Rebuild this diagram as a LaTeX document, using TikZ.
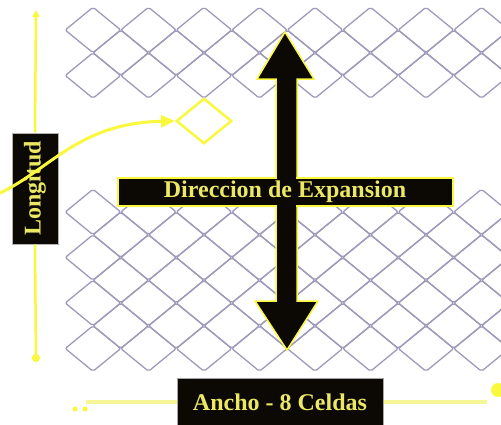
\documentclass[tikz,border=0pt]{standalone}
\usepackage{graphicx}
\usepackage{fontspec}
\setmainfont{Liberation Serif}
\usepackage{xcolor}
\usetikzlibrary{arrows.meta,positioning,shapes.geometric}

\definecolor{cellgray}{RGB}{160,154,186}
\definecolor{hiyellow}{RGB}{250,248,60}
\definecolor{paleyellow}{RGB}{246,246,150}
\definecolor{txtyellow}{RGB}{234,232,100}
\definecolor{boxblack}{RGB}{12,8,4}

\begin{document}
\begin{tikzpicture}[>=Stealth,x=1pt,y=-1pt,
  cellline/.style={draw=cellgray,line width=1.3pt,rounded corners=2pt},
  tag/.style={fill=boxblack,text=txtyellow,inner sep=0pt,align=center,
    font=\fontsize{24}{26}\selectfont\bfseries},
  guide/.style={hiyellow,line width=2.5pt},
  paleline/.style={paleyellow,line width=4pt},
  bigarrow/.style={fill=boxblack,draw=hiyellow,line width=1.5pt}]
\useasboundingbox (0,0) rectangle (501,424);
\clip (0,0) rectangle (501,424);
\fill[white] (0,0) rectangle (501,424);
% diamond lattice, upper and lower blocks
\foreach \i in {0,...,7}{
  \foreach \j in {0,1,4,5,6,7}
    \draw[cellline] ({93+55.5*\i-27.75},{30+45.5*\j}) -- ++(27.75,-22.75)
      -- ++(27.75,22.75) -- ++(-27.75,22.75) -- cycle;
  \foreach \j in {0,4,5,6}
    \draw[cellline] ({120.75+55.5*\i-27.75},{52.75+45.5*\j}) -- ++(27.75,-22.75)
      -- ++(27.75,22.75) -- ++(-27.75,22.75) -- cycle;
}
% the one highlighted cell
\node[diamond,draw=hiyellow,line width=2.5pt,minimum width=55.5,
  minimum height=45.5,inner sep=0pt] (sel) at (204,121) {};
% expansion arrow, then the bar that crosses it
\filldraw[bigarrow] (285,32) -- (314,79) -- (297,79) -- (297,301) -- (318,301)
  -- (287,350) -- (255,301) -- (276,301) -- (276,79) -- (257,79) -- cycle;
\node[tag,draw=hiyellow,line width=2pt,minimum width=335,minimum height=28]
  (dir) at (285,192) {};
\fill[boxblack] (276.8,175) rectangle (296.2,209);
\node[tag,fill=none] (dirtext) at (dir.center) {Direccion de Expansion};
% other labels
\node[tag,draw=gray!60,line width=1pt,minimum width=46,minimum height=111]
  (lon) at (35,188.5) {\rotatebox{90}{Longitud}};
\node[tag,draw=gray!70,line width=1pt,minimum width=206,minimum height=48]
  (ancho) at (280,402) {Ancho - 8 Celdas};
% length guide
\coordinate (lentop) at (36,10);
\coordinate (lenbot) at (36,362);
\draw[guide,-{Triangle[length=7pt,width=7pt]}] (lon.north) -- (lentop);
\draw[guide,-{Circle[length=8pt]}] (lon.south) -- (lenbot);
% width guide
\coordinate (widl) at (86,402);
\coordinate (widr) at (487,402);
\draw[paleline] (ancho.west) -- (widl);
\draw[paleline] (ancho.east) -- (widr);
\fill[hiyellow] (75,409) circle[radius=2.5pt] (85,409) circle[radius=2.5pt];
\fill[hiyellow] (498,390) circle[radius=7pt];
% pointer to the cell
\coordinate (curvestart) at (-2,194);
\draw[guide,line width=3pt,-{Triangle[length=14pt,width=12pt]}]
  (curvestart) .. controls (50,170) and (78,123) .. (sel.west);
\end{tikzpicture}
\end{document}
